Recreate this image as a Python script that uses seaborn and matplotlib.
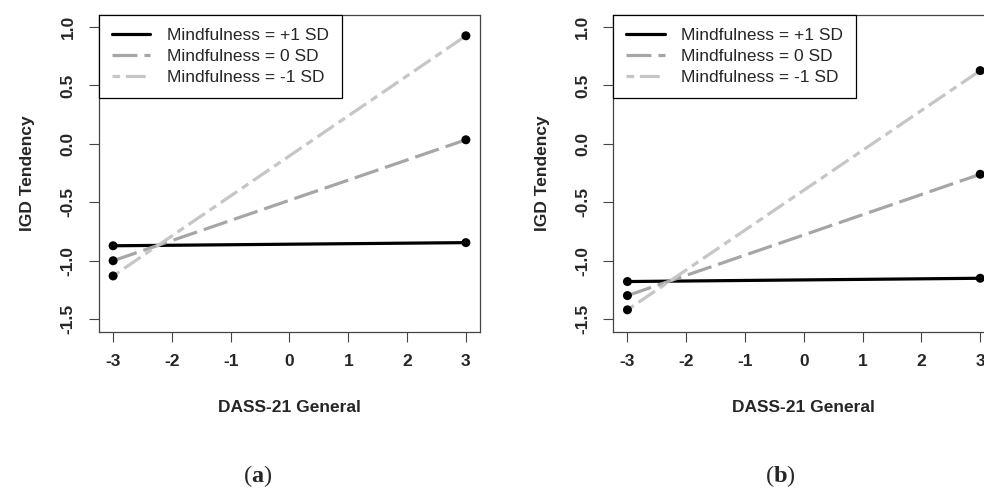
import matplotlib
matplotlib.use("Agg")
import matplotlib.pyplot as plt
from matplotlib.lines import Line2D
import seaborn as sns
import pandas as pd

# ---- data ----
x_levels = [-3, 3]
series_labels = ["Mindfulness = +1 SD", "Mindfulness = 0 SD", "Mindfulness = -1 SD"]
panel_a_plus1 = [-0.872, -0.845]
panel_a_zero = [-1.00, 0.035]
panel_a_minus1 = [-1.13, 0.925]
panel_b_plus1 = [-1.178, -1.15]
panel_b_zero = [-1.298, -0.26]
panel_b_minus1 = [-1.42, 0.627]
x_ticks = [-3, -2, -1, 0, 1, 2, 3]
x_tick_labels = ["-3", "-2", "-1", "0", "1", "2", "3"]
y_ticks = [-1.5, -1.0, -0.5, 0.0, 0.5, 1.0]
y_tick_labels = ["-1.5", "-1.0", "-0.5", "0.0", "0.5", "1.0"]
x_label = "DASS-21 General"
y_label = "IGD Tendency"
captions = ["a", "b"]

# ---- style ----
sns.set_style("white")
plt.rcParams["font.family"] = ["Liberation Sans", "DejaVu Sans"]
plt.rcParams["axes.unicode_minus"] = False
plt.rcParams["mathtext.fontset"] = "custom"
plt.rcParams["mathtext.rm"] = "Liberation Serif"
plt.rcParams["mathtext.bf"] = "Liberation Serif:bold"

FS = 12.5
LW = 2.3
colors = ["black", "#a6a6a6", "#c6c6c6"]
dash_styles = [None, (7.8, 2.2), (2.4, 1.8, 6.2, 1.8)]

fig = plt.figure(figsize=(9.84, 4.9), dpi=100)
ax_pos = [[0.1006, 0.3224, 0.3872, 0.647], [0.6233, 0.3224, 0.3872, 0.647]]
panels = [
    [panel_a_plus1, panel_a_zero, panel_a_minus1],
    [panel_b_plus1, panel_b_zero, panel_b_minus1],
]
caption_x = [0.2622, 0.7927]

for pi, (pos, series) in enumerate(zip(ax_pos, panels)):
    ax = fig.add_axes(pos)
    for si, ys in enumerate(series):
        df = pd.DataFrame({"x": x_levels, "y": ys})
        sns.lineplot(data=df, x="x", y="y", ax=ax, color=colors[si], lw=LW,
                     zorder=2 + si, legend=False)
        if dash_styles[si] is not None:
            ax.lines[-1].set_dashes(dash_styles[si])
    for ys in series:
        df = pd.DataFrame({"x": x_levels, "y": ys})
        sns.scatterplot(data=df, x="x", y="y", ax=ax, color="black", s=42,
                        edgecolor="none", zorder=10, legend=False)

    ax.set_xlim(-3.24, 3.24)
    ax.set_ylim(-1.61, 1.103)
    ax.set_xticks(x_ticks)
    ax.set_xticklabels(x_tick_labels, fontsize=FS, fontweight="bold")
    ax.set_yticks(y_ticks)
    ax.set_yticklabels(y_tick_labels, fontsize=FS, fontweight="bold", rotation=90,
                       va="center")
    ax.tick_params(axis="both", direction="out", length=7.2, width=0.8,
                   color="#444444", bottom=True, left=True)
    ax.tick_params(axis="x", pad=8.5)
    ax.tick_params(axis="y", pad=9.5)
    for sp in ax.spines.values():
        sp.set_color("#444444")
        sp.set_linewidth(0.9)
    ax.set_xlabel(x_label, fontsize=FS, fontweight="bold", va="center")
    ax.xaxis.set_label_coords(0.5, -0.2366)
    ax.set_ylabel(y_label, fontsize=FS, fontweight="bold", va="center")
    ax.yaxis.set_label_coords(-0.187, 0.5)

    handles = []
    for si in range(3):
        h = Line2D([0], [0], color=colors[si], lw=LW)
        if dash_styles[si] is not None:
            h.set_dashes(dash_styles[si])
        handles.append(h)
    leg = ax.legend(handles, series_labels, loc="upper left", bbox_to_anchor=(0, 1),
                    borderaxespad=0, fancybox=False, framealpha=1,
                    edgecolor="black", fontsize=FS, handlelength=2.2,
                    handletextpad=0.95, labelspacing=0.33, borderpad=0.75)
    leg.get_frame().set_linewidth(0.9)

    fig.text(caption_x[pi], 0.017, r"($\mathbf{%s}$)" % captions[pi],
             fontsize=17.5, family="Liberation Serif", ha="center", va="baseline")

fig.savefig("out.png", dpi=100)
